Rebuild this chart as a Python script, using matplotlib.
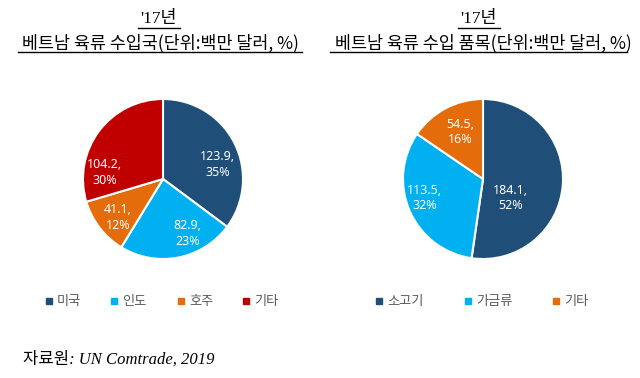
import matplotlib
matplotlib.use("Agg")
import matplotlib.pyplot as plt
from matplotlib.lines import Line2D

plt.rcParams['font.family'] = ['Noto Sans CJK KR', 'DejaVu Sans']

# Data
left_cats = ['미국', '인도', '호주', '기타']
left_vals = [123.9, 82.9, 41.1, 104.2]
left_pcts = [35, 23, 12, 30]
left_colors = ['#1F4E79', '#00B0F0', '#E46C0A', '#C00000']

right_cats = ['소고기', '가금류', '기타']
right_vals = [184.1, 113.5, 54.5]
right_pcts = [52, 32, 16]
right_colors = ['#1F4E79', '#00B0F0', '#E46C0A']

left_title1 = "'17년"
left_title2 = "베트남 육류 수입국(단위:백만 달러, %)"
right_title1 = "'17년"
right_title2 = "베트남 육류 수입 품목(단위:백만 달러, %)"
source = "자료원: UN Comtrade, 2019"

# layout (label placement inside pie, in radius units)
left_label_pos = [(0.68, 0.18), (0.31, -0.68), (-0.56, -0.48), (-0.73, 0.08)]
right_label_pos = [(0.34, -0.24), (-0.73, -0.24), (-0.29, 0.59)]

W, H = 640, 378
fig = plt.figure(figsize=(6.4, 3.78), dpi=100)


def draw_pie(cx, cy, r, vals, pcts, colors, label_pos):
    ax = fig.add_axes([(cx - r) / W, 1 - (cy + r) / H, 2 * r / W, 2 * r / H])
    wedges, texts, autotexts = ax.pie(vals, colors=colors, startangle=90, counterclock=False,
                                      autopct='%1.0f%%', pctdistance=0.7,
                                      wedgeprops=dict(edgecolor='white', linewidth=1.5),
                                      textprops=dict(color='white', fontsize=9))
    for t, v, p, pos in zip(autotexts, vals, pcts, label_pos):
        t.set_text(f"{v},\n{p}%")
        t.set_linespacing(1.25)
        t.set_family(['Noto Sans'])
        t.set_position(pos)
    ax.set_aspect('equal')
    ax.set_xlim(-1.0, 1.0)
    ax.set_ylim(-1.0, 1.0)
    return ax


draw_pie(163, 179, 80, left_vals, left_pcts, left_colors, left_label_pos)
draw_pie(483, 179, 80, right_vals, right_pcts, right_colors, right_label_pos)


def title(cx1, cx2, t1, t2):
    fig.text(cx1 / W, 1 - 19 / H, t1, ha='center', va='center', fontsize=12.5,
             family=['Liberation Serif', 'Noto Sans CJK KR'])
    fig.text(cx2 / W, 1 - 43 / H, t2, ha='center', va='center', fontsize=12.5,
             family=['Noto Sans CJK KR'])


title(159, 160, left_title1, left_title2)
title(479, 483, right_title1, right_title2)


def hline(x0, x1, y):
    fig.add_artist(Line2D([x0 / W, x1 / W], [1 - y / H, 1 - y / H], color='black', lw=1.0))


hline(138, 180, 28)
hline(458, 500, 28)
hline(18, 302, 52)
hline(330, 627, 52)


def legend(cats, colors, xs, y):
    for c, col, x in zip(cats, colors, xs):
        fig.add_artist(Line2D([x / W], [1 - y / H], marker='s', color=col, linestyle='none',
                              markersize=3.8))
        fig.text((x + 8) / W, 1 - y / H, c, ha='left', va='center', fontsize=9.5,
                 color='#595959')


legend(left_cats, left_colors, [49, 114, 181, 246], 301)
legend(right_cats, right_colors, [379, 468, 556], 301)

fig.text(23 / W, 1 - 359 / H, source, ha='left', va='center', fontsize=12, style='italic',
         family=['Liberation Serif', 'Noto Sans CJK KR'])

fig.savefig('out.png', dpi=100)
